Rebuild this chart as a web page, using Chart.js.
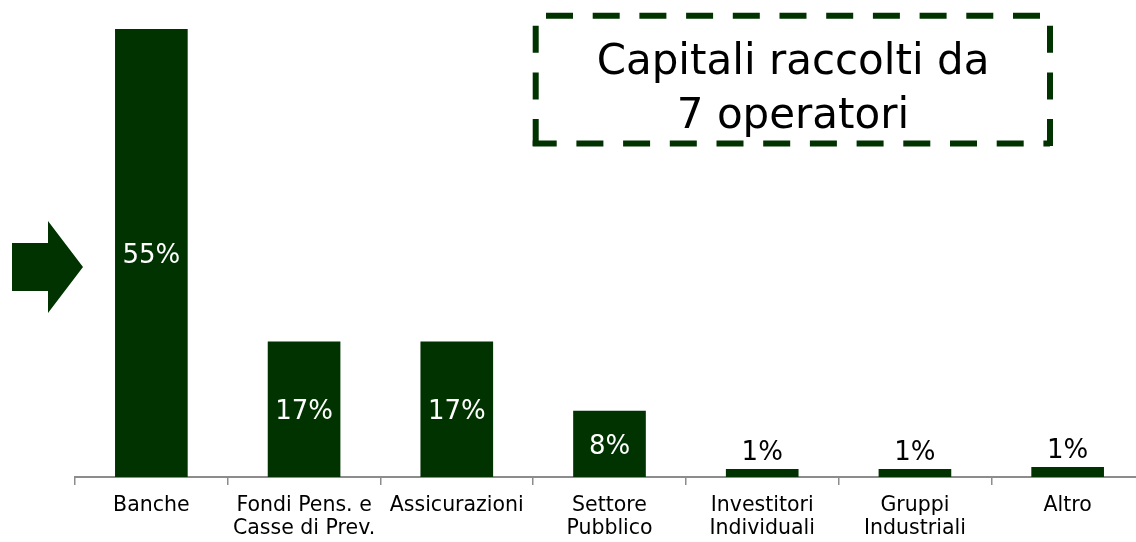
<!DOCTYPE html>
<html>
<head>
<meta charset="utf-8">
<script src="https://cdn.jsdelivr.net/npm/chart.js@4.4.1/dist/chart.umd.min.js"></script>
<style>
  html, body { margin: 0; padding: 0; background: #ffffff; overflow: hidden; width: 1136px; height: 542px; }
  canvas { display: block; }
</style>
</head>
<body>
<canvas id="c" width="1146" height="542"></canvas>
<script>
const categories = [
  "Banche",
  ["Fondi Pens. e", "Casse di Prev."],
  "Assicurazioni",
  ["Settore", "Pubblico"],
  ["Investitori", "Individuali"],
  ["Gruppi", "Industriali"],
  "Altro"
];
const shares = [55, 16.6, 16.6, 8.1, 0.95, 0.95, 1.2];
const shareLabels = ["55%", "17%", "17%", "8%", "1%", "1%", "1%"];
const titleLines = ["Capitali raccolti da", "7 operatori"];

const GREEN = "#003300";
const FONT = "'DejaVu Sans', Verdana, sans-serif";

function dashedLine(ctx, x1, y1, x2, y2, offset) {
  ctx.setLineDash([27, 19.7]);
  ctx.lineDashOffset = offset;
  ctx.beginPath();
  ctx.moveTo(x1, y1);
  ctx.lineTo(x2, y2);
  ctx.stroke();
}

const decorPlugin = {
  id: "decor",
  afterDatasetsDraw(chart) {
    const ctx = chart.ctx;
    const meta = chart.getDatasetMeta(0);
    ctx.save();
    // value labels
    meta.data.forEach((bar, i) => {
      const v = shares[i];
      ctx.font = "26px " + FONT;
      ctx.textAlign = "center";
      if (v > 5) {
        ctx.fillStyle = "#ffffff";
        ctx.textBaseline = "middle";
        ctx.fillText(shareLabels[i], bar.x, (bar.y + bar.base) / 2 + 3);
      } else {
        ctx.fillStyle = "#000000";
        ctx.textBaseline = "alphabetic";
        ctx.fillText(shareLabels[i], bar.x, bar.y - 9);
      }
    });
    // arrow
    ctx.fillStyle = GREEN;
    ctx.beginPath();
    ctx.moveTo(12, 243);
    ctx.lineTo(48, 243);
    ctx.lineTo(48, 221);
    ctx.lineTo(83, 267);
    ctx.lineTo(48, 313);
    ctx.lineTo(48, 291);
    ctx.lineTo(12, 291);
    ctx.closePath();
    ctx.fill();
    // dashed title box
    ctx.strokeStyle = GREEN;
    ctx.lineWidth = 6;
    ctx.lineCap = "butt";
    dashedLine(ctx, 535.7, 15.7, 1050, 15.7, 36.4);   // top
    dashedLine(ctx, 535.7, 15.7, 535.7, 146.5, 36.7); // left
    dashedLine(ctx, 532.7, 143.5, 1050, 143.5, 3);    // bottom
    dashedLine(ctx, 1050, 15.7, 1050, 146.7, 36.7);   // right
    ctx.setLineDash([]);
    ctx.fillStyle = "#000000";
    ctx.font = "42px " + FONT;
    ctx.textAlign = "center";
    ctx.textBaseline = "alphabetic";
    ctx.fillText(titleLines[0], 793, 74);
    ctx.fillText(titleLines[1], 793, 128);
    ctx.restore();
  }
};

new Chart(document.getElementById("c"), {
  type: "bar",
  data: {
    labels: categories,
    datasets: [{
      data: shares,
      backgroundColor: GREEN,
      borderWidth: 0,
      barThickness: 72
    }]
  },
  options: {
    responsive: false,
    animation: false,
    layout: { padding: { top: 29, left: 75, right: 2, bottom: 0 } },
    plugins: { legend: { display: false }, tooltip: { enabled: false }, title: { display: false } },
    scales: {
      y: { display: false, min: 0, max: 55 },
      x: {
        afterFit(axis) { axis.height = 65; },
        border: { display: true, color: "#8c8c8c", width: 2 },
        grid: { display: true, drawOnChartArea: false, drawTicks: true, tickLength: 8, color: "#8c8c8c", lineWidth: 1.5, offset: true },
        ticks: { color: "#000000", font: { family: FONT, size: 20.5, lineHeight: 1.08 }, padding: 10, maxRotation: 0, autoSkip: false }
      }
    }
  },
  plugins: [decorPlugin]
});
</script>
</body>
</html>
